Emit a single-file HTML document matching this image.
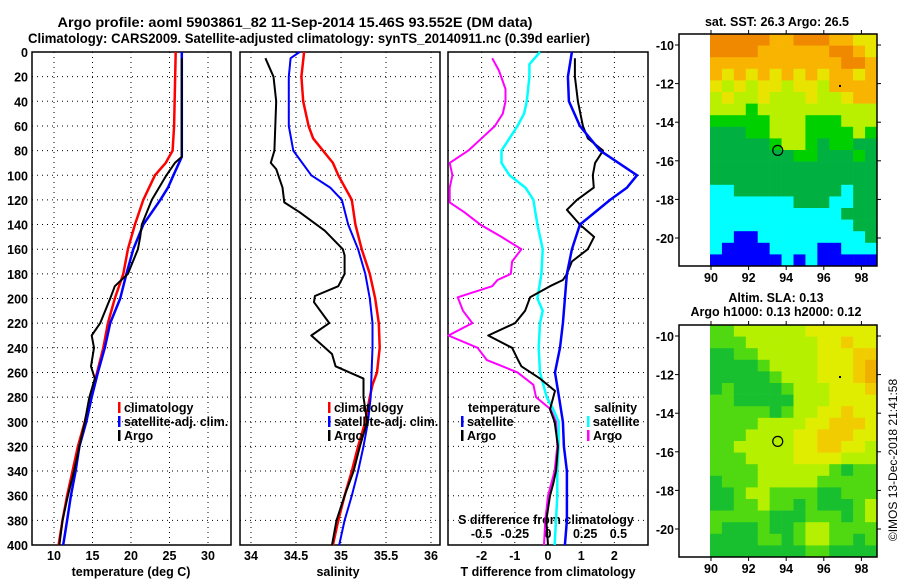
<!DOCTYPE html>
<html><head><meta charset="utf-8"><style>
html,body{margin:0;padding:0;background:#fff;}
svg{display:block;font-family:"Liberation Sans",Arial,sans-serif;font-weight:bold;}
</style></head><body>
<svg id="fig" width="900" height="580" viewBox="0 0 900 580" xmlns="http://www.w3.org/2000/svg">
<text x="295" y="27" font-size="14" text-anchor="middle" textLength="475" lengthAdjust="spacingAndGlyphs">Argo profile: aoml 5903861_82 11-Sep-2014 15.46S 93.552E (DM data)</text>
<text x="309" y="43" font-size="14" text-anchor="middle" textLength="562" lengthAdjust="spacingAndGlyphs">Climatology: CARS2009. Satellite-adjusted climatology: synTS_20140911.nc (0.39d earlier)</text>
<text x="777" y="26" font-size="12.5" text-anchor="middle">sat. SST: 26.3 Argo: 26.5</text>
<text x="776" y="302" font-size="12.5" text-anchor="middle">Altim. SLA: 0.13</text>
<text x="776" y="316" font-size="12.5" text-anchor="middle">Argo h1000: 0.13 h2000: 0.12</text>
<text transform="translate(897,460) rotate(-90)" font-size="12" font-weight="normal" text-anchor="middle">©IMOS 13-Dec-2018 21:41:58</text>
<g id="plots"></g>
</svg>
<script>
// ---------- data ----------
const depthTicks = [0,20,40,60,80,100,120,140,160,180,200,220,240,260,280,300,320,340,360,380,400];
const tempTicks = [10,15,20,25,30];
const salTicks = [34,34.5,35,35.5,36];
const tdiffTicks = [-2,-1,0,1,2];
const sdiffTicks = [-0.5,-0.25,0,0.25,0.5];
const sdiffTickLabels = ["-0.5","-0.25","0","0.25","0.5"];

const tClimDepth = [0,60,80,90,100,120,140,160,180,200,220,240,260,280,300,320,340,360,380,400];
const tClimVal   = [25.8,25.6,25.4,24.5,23.1,21.6,20.5,19.6,19.0,17.9,17.0,16.4,15.6,14.8,14.0,13.1,12.4,11.7,11.1,10.6];
const tSatDepth = [0,85,100,110,120,140,160,180,200,220,240,260,280,300,320,340,360,380,400];
const tSatVal   = [26.6,26.6,25.5,24.8,23.8,21.6,20.3,19.4,18.6,17.3,16.6,15.7,14.9,14.2,13.3,12.8,12.2,11.7,11.2];
const tArgoDepth = [5,85,90,100,120,140,150,160,180,190,200,220,230,240,255,265,280,300,320,340,360,380,400];
const tArgoVal   = [26.6,26.6,25.7,24.6,22.7,21.4,21.2,20.9,19.6,17.9,17.3,16.0,14.9,15.2,14.8,15.3,14.6,14.0,13.3,12.6,11.8,11.1,10.7];

const sClimDepth = [0,20,40,60,70,80,90,100,120,140,160,180,200,220,240,260,270,280,300,320,340,360,380,400];
const sClimVal   = [34.59,34.56,34.58,34.64,34.69,34.80,34.91,34.97,35.12,35.16,35.23,35.32,35.38,35.42,35.43,35.40,35.35,35.32,35.27,35.19,35.12,35.04,34.97,34.91];
const sSatDepth = [0,5,20,60,80,100,110,120,140,160,180,200,220,240,260,280,300,320,340,360,380,400];
const sSatVal   = [34.54,34.44,34.42,34.42,34.47,34.67,34.88,35.01,35.08,35.19,35.27,35.32,35.35,35.35,35.34,35.33,35.30,35.25,35.19,35.12,35.04,34.98];
const sArgoDepth = [5,20,40,80,90,95,110,122,130,145,160,165,180,190,198,203,210,220,230,245,255,265,280,290,300,320,340,360,380,400];
const sArgoVal   = [34.16,34.25,34.28,34.26,34.22,34.28,34.35,34.37,34.54,34.82,35.02,35.04,35.04,34.97,34.71,34.70,34.77,34.87,34.67,34.90,34.94,35.25,35.25,35.27,35.29,35.21,35.14,35.04,34.95,34.90];

const dTSatDepth = [0,20,40,60,80,100,110,120,140,160,180,200,220,240,260,280,300,320,340,360,380,400];
const dTSatVal   = [0.72,0.60,0.63,0.96,1.57,2.68,2.38,1.87,0.96,0.72,0.57,0.51,0.45,0.36,0.21,0.33,0.45,0.48,0.57,0.57,0.57,0.51];
const dTArgoDepth = [5,20,40,60,70,80,90,100,110,120,128,140,150,160,170,180,185,190,199,210,220,230,240,250,255,265,275,290,300,320,340,350,360,380,400];
const dTArgoVal   = [0.81,0.81,0.90,1.05,1.20,1.66,1.42,1.35,1.38,0.87,0.57,0.96,1.39,1.20,0.72,0.57,0.45,0.06,-0.54,-0.69,-0.99,-1.80,-1.08,-0.90,-0.80,-0.24,0.21,0.06,0.20,0.30,0.24,0.16,0.06,-0.05,0.0];
const dSSatDepth = [0,10,20,40,50,60,70,80,90,100,110,120,140,160,180,200,210,220,240,260,280,290,300,320,340,360,380,400];
const dSSatVal   = [-0.06,-0.14,-0.14,-0.16,-0.18,-0.23,-0.29,-0.35,-0.35,-0.29,-0.17,-0.11,-0.08,-0.04,-0.05,-0.08,-0.04,-0.06,-0.07,-0.06,-0.01,0.04,0.08,0.08,0.07,0.07,0.06,0.05];
const dSArgoDepth = [5,15,30,40,50,60,70,80,90,100,110,122,130,140,150,160,170,180,185,190,199,210,220,230,240,250,260,270,280,290,300,320,340,360,380,400];
const dSArgoVal   = [-0.42,-0.37,-0.32,-0.32,-0.34,-0.40,-0.50,-0.60,-0.74,-0.72,-0.74,-0.74,-0.63,-0.51,-0.35,-0.20,-0.27,-0.28,-0.38,-0.42,-0.68,-0.64,-0.57,-0.75,-0.53,-0.46,-0.23,-0.11,-0.09,0.02,0.06,0.07,0.05,0.0,-0.02,-0.03];

const lonTicks = [90,92,94,96,98];
const latTicks = [-10,-12,-14,-16,-18,-20];
const sstGrid = [
"OOOOOooOOOooYY","OOOOooooooOOoY","oooooooooooOOo","oYoYoYoYoYooYo","YyYyYYyYYyoooo",
"yYyyYyyyYyyYoo","yyyGyyyyyyyyyy","GGGGGyyyGGGyyy","gggGGyyyGGGGyG","gggggGyyGgGGgg",
"gggggggGGgggGg","gggggggggggggg","gggggggggggggg","CCgggggggggCgg","CCCCCCCgggCCgg",
"CCCCCCCCCCCggg","CCCCCCCCCCCCgg","CCBBCCCCCCCCCg","CBBBBCCCCBBCCC","BBBBBBCBCBBBBB"];
const slaGrid = [
"ggyyyyyyYYYYYY","gggyyyyyyYYoYY","GGggyyyyyYYYoo","GGGGgyyyyYYYoO","GGGGGgyyyYYYoO",
"GgGGGGgyyyYYYo","ggGGGGGyyyYYYY","gggggGgyyYYoYY","ggggyyyyYYoooY","gggyyyyYYoooYY",
"ggyyyyyYYooYYy","gggyyyyYYYYyyy","ggggyyyyyygGgg","Ggggyyyyyggggg","GGgyyggggGGggg",
"GGggyggGgGGGgy","gggggGGGgggGgy","gGGGgGGgyygggg","GGGGggGgyyggGg","GGGGGGGGggGGGG"];
const argoLon = 93.55, argoLat = -15.46;

// ---------- helpers ----------
const NS = "http://www.w3.org/2000/svg";
const root = document.getElementById('plots');
function mk(tag, attrs, parent){const e=document.createElementNS(NS,tag);for(const k in attrs)e.setAttribute(k,attrs[k]);(parent||root).appendChild(e);return e;}
const Y0=52, Y1=545;
const yD = z => Y0 + z*(Y1-Y0)/400;
const xT = t => 54 + (t-10)*7.7;
const xS = s => 251 + (s-34)*90;
const xDT = d => 548 + d*33.2;
const xDS = s => 548 + s*132.8;

function line(depths, vals, xf, color, w, name){
  let d = depths.map((z,i)=>(i?'L':'M')+xf(vals[i]).toFixed(1)+','+yD(z).toFixed(1)).join('');
  const p = mk('path',{d:d,fill:'none',stroke:color,'stroke-width':w,'stroke-linejoin':'round'});
  
  
}
function panel(x0,x1,xt,xf,name){
  const g = mk('g',{});
  
  
  depthTicks.forEach(z=>{ if(z>0&&z<400){const l=mk('line',{x1:x0,x2:x1,y1:yD(z),y2:yD(z),stroke:'#000','stroke-width':1,'stroke-dasharray':'1,4'},g);
    
    }});
  xt.forEach(v=>{const x=xf(v);const l=mk('line',{x1:x,x2:x,y1:Y0,y2:Y1,stroke:'#000','stroke-width':1,'stroke-dasharray':'1,4'},g);
    
    });
  const r=mk('rect',{x:x0,y:Y0,width:x1-x0,height:Y1-Y0,fill:'none',stroke:'#000','stroke-width':1.5},g);
  
  
  return g;
}
function txt(x,y,s,size,anchor,name){const t=mk('text',{x:x,y:y,'font-size':size,'text-anchor':anchor||'middle'});t.textContent=s;
  
  
  return t;}

// ---------- panels ----------
panel(32,231,tempTicks,xT,'temperature-panel');
panel(240,440,salTicks,xS,'salinity-panel');
panel(448,648,tdiffTicks,xDT,'difference-panel');

depthTicks.forEach(z=>txt(28,yD(z)+5,String(z),12.5,'end','depth-tick-label'));
tempTicks.forEach(v=>txt(xT(v),560,String(v),12.5,'middle','temperature-tick-label'));
salTicks.forEach(v=>txt(xS(v),560,String(v),12.5,'middle','salinity-tick-label'));
tdiffTicks.forEach(v=>txt(xDT(v),560,String(v),12.5,'middle','tdiff-tick-label'));
sdiffTicks.forEach((v,i)=>txt(xDS(v)+(v>0?4:0),538,sdiffTickLabels[i],12.5,'middle','sdiff-tick-label'));
txt(131,576,'temperature (deg C)',12.5,'middle','temperature-axis-title');
txt(338,576,'salinity',12.5,'middle','salinity-axis-title');
txt(548,576,'T difference from climatology',12.5,'middle','tdiff-axis-title');
txt(546,524,'S difference from climatology',12.5,'middle','sdiff-axis-title');

line(tClimDepth,tClimVal,xT,'#ff0000',2.5,'temp-climatology-line');
line(tSatDepth,tSatVal,xT,'#0000ff',2.5,'temp-satellite-line');
line(tArgoDepth,tArgoVal,xT,'#000000',2,'temp-argo-line');
line(sClimDepth,sClimVal,xS,'#ff0000',2.5,'sal-climatology-line');
line(sSatDepth,sSatVal,xS,'#0000ff',2,'sal-satellite-line');
line(sArgoDepth,sArgoVal,xS,'#000000',2,'sal-argo-line');
line(dSArgoDepth,dSArgoVal,xDS,'#ff00ff',2,'sdiff-argo-line');
line(dSSatDepth,dSSatVal,xDS,'#00ffff',2.5,'sdiff-satellite-line');
line(dTArgoDepth,dTArgoVal,xDT,'#000000',2,'tdiff-argo-line');
line(dTSatDepth,dTSatVal,xDT,'#0000ff',2.5,'tdiff-satellite-line');

function legendEntry(x,y,color,label,name){
  const b=mk('rect',{x:x,y:y-10,width:2.5,height:11,fill:color});
  
  
  txt(x+6,y,label,12.5,'start',name);
}
[[118,'#ff0000','climatology'],[118,'#0000ff','satellite-adj. clim.'],[118,'#000','Argo']].forEach((e,i)=>legendEntry(e[0],412+i*14,e[1],e[2],'temp-legend-entry'));
[[328,'#ff0000','climatology'],[328,'#0000ff','satellite-adj. clim.'],[328,'#000','Argo']].forEach((e,i)=>legendEntry(e[0],412+i*14,e[1],e[2],'sal-legend-entry'));
txt(468,412,'temperature',12.5,'start','tdiff-legend-heading');
legendEntry(461,426,'#0000ff','satellite','tdiff-legend-entry');
legendEntry(461,440,'#000','Argo','tdiff-legend-entry');
txt(594,412,'salinity',12.5,'start','sdiff-legend-heading');
legendEntry(587,426,'#00ffff','satellite','sdiff-legend-entry');
legendEntry(587,440,'#ff00ff','Argo','sdiff-legend-entry');

// ---------- maps ----------
const sstColors = {O:'#f08800',o:'#f8b400',Y:'#e8e400',y:'#b8f000',G:'#00d000',g:'#00b040',C:'#00ffff',B:'#0000ff'};
const slaColors = {O:'#f0b000',o:'#f0cc00',Y:'#e0ec00',y:'#b4f000',g:'#50d810',G:'#18c030'};
function drawMap(top,grid,colors,name){
  const bx0=679,bx1=877,by0=top,by1=top+232;
  const lonX = l => 711 + (l-90)*18.8;
  const latY = l => top + 11 + (-10-l)*19.3;
  const g=mk('g',{});
  
  
  const cw=(bx1-710)/14, ch=232/20;
  grid.forEach((row,r)=>{for(let c=0;c<14;c++){const cell=mk('rect',{x:(710+c*cw).toFixed(2),y:(top+r*ch).toFixed(2),width:(cw+0.3).toFixed(2),height:(ch+0.3).toFixed(2),fill:colors[row[c]]},g);
    
    }});
  const fr=mk('rect',{x:bx0,y:by0,width:bx1-bx0,height:by1-by0,fill:'none',stroke:'#000','stroke-width':1.5},g);
  
  
  lonTicks.forEach(l=>{const x=lonX(l);
    mk('line',{x1:x,x2:x,y1:by0-4,y2:by0,stroke:'#000'},g);
    mk('line',{x1:x,x2:x,y1:by1,y2:by1+4,stroke:'#000'},g);
    txt(x,by1+16,String(l),12.5,'middle','map-lon-label');});
  latTicks.forEach(l=>{const y=latY(l);
    mk('line',{x1:bx1,x2:bx1+4,y1:y,y2:y,stroke:'#000'},g);
    mk('line',{x1:bx0-4,x2:bx0,y1:y,y2:y,stroke:'#000'},g);
    txt(674,y+5,String(l),12.5,'end','map-lat-label');});
  const c=mk('circle',{cx:lonX(argoLon),cy:latY(argoLat),r:5,fill:'none',stroke:'#000','stroke-width':1.2},g);
  
  
  mk('rect',{x:839,y:top+51,width:2,height:2,fill:'#000'},g);
}
drawMap(34,sstGrid,sstColors,'sst-map');
drawMap(325,slaGrid,slaColors,'sla-map');
</script>
</body></html>
